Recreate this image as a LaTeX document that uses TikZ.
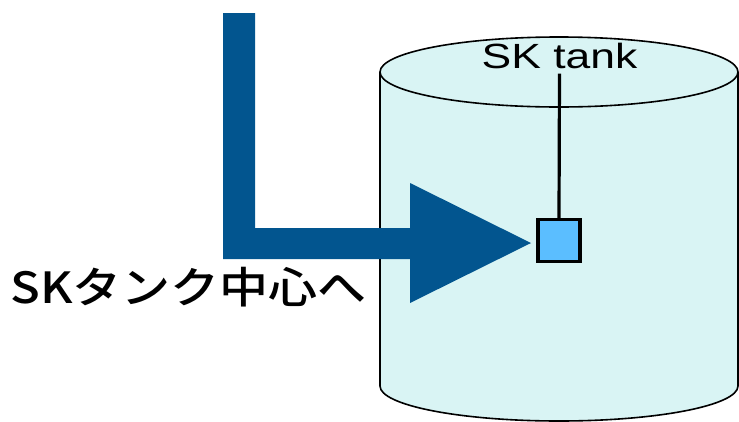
\documentclass[tikz,border=0pt]{standalone}
\usepackage{fontspec}
\setmainfont{Liberation Sans}
\newfontfamily\jpfont{Noto Sans CJK JP Medium}
\definecolor{tankfill}{HTML}{D9F4F4}
\definecolor{flowblue}{HTML}{02558F}
\definecolor{sensorfill}{HTML}{5BBEFF}
\tikzset{
  tankline/.style={draw=black, line width=1.6pt},
  sensorbox/.style={draw=black, line width=3.5pt, fill=sensorfill, minimum size=42pt, inner sep=0pt},
  tanklabel/.style={inner sep=0pt, font=\fontsize{35}{40}\selectfont},
  flowlabel/.style={inner sep=0pt, font=\jpfont\fontsize{43}{48}\selectfont},
}
\begin{document}
\begin{tikzpicture}[x=1pt, y=-1pt]
\useasboundingbox (0,0) rectangle (739,421);

% tank body
\fill[tankfill] (380,72) arc[start angle=180, end angle=0, x radius=179pt, y radius=35pt]
  -- (738,386) arc[start angle=0, end angle=-180, x radius=179pt, y radius=35pt] -- cycle;
\draw[tankline] (380,72) -- (380,386)
  arc[start angle=180, end angle=360, x radius=179pt, y radius=35pt] -- (738,72);
\draw[tankline] (559,72) ellipse[x radius=179pt, y radius=35pt];

% bent flow arrow
\fill[flowblue] (223,13) -- (255,13) -- (255,228) -- (410,228) -- (410,183)
  -- (531,243) -- (410,303) -- (410,259) -- (223,259) -- cycle;

% sensor and its label
\node[sensorbox] (sensor) at (559,240.5) {};
\node[tanklabel, anchor=base] (lbl) at (559.5,68) {\scalebox{1.27}[1]{SK tank}};
\draw[line width=3.2pt] ([yshift=-5pt]lbl.south) -- (sensor.north);

\node[flowlabel, anchor=base west] (flow) at (10,303) {\scalebox{1.14}[1]{SKタンク中心へ}};
\end{tikzpicture}
\end{document}
